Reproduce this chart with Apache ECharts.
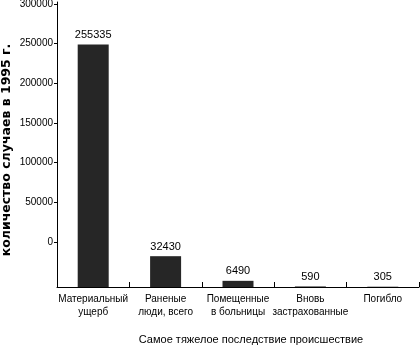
<!DOCTYPE html>
<html><head><meta charset="utf-8">
<script src="https://cdn.jsdelivr.net/npm/echarts@6/dist/echarts.min.js"></script>
<style>html,body{margin:0;padding:0;background:#fff}#c{width:420px;height:350px}</style>
</head><body><div id="c"></div>
<script>
const categories = ['Материальный\nущерб', 'Раненые\nлюди, всего', 'Помещенные\nв больницы', 'Вновь\nзастрахованные', 'Погибло'];
const values = [255335, 32430, 6490, 590, 305];
const yTickLabels = ['0', '50000', '100000', '150000', '200000', '250000', '300000'];
const xTitle = 'Самое тяжелое последствие происшествие';
const yTitle = 'количество случаев в 1995 г.';

const font = 'Liberation Sans, Arial, sans-serif';
const chart = echarts.init(document.getElementById('c'), null, {renderer: 'canvas'});
chart.setOption({
  backgroundColor: '#ffffff',
  animation: false,
  grid: [
    {left: 57, top: 2, width: 362, height: 285, containLabel: false, outerBoundsMode: 'none'},
    {left: 57, top: 4, width: 362, height: 238, containLabel: false, outerBoundsMode: 'none'}
  ],
  xAxis: [
    {
      type: 'category', gridIndex: 0, data: categories,
      axisLine: {show: true, lineStyle: {color: '#000', width: 1}},
      axisTick: {show: true, inside: true, length: 5, lineStyle: {color: '#000'}},
      axisLabel: {color: '#000', fontFamily: font, fontSize: 10, lineHeight: 13, margin: 6, interval: 0},
      name: xTitle, nameLocation: 'middle', nameGap: 47,
      nameTextStyle: {color: '#000', fontFamily: font, fontSize: 11, padding: [0, 0, 0, 26]}
    },
    {type: 'category', gridIndex: 1, data: categories, show: false}
  ],
  yAxis: [
    {
      type: 'value', gridIndex: 0, min: 0, max: 300000, interval: 50000,
      axisLine: {show: true, lineStyle: {color: '#000', width: 1}},
      axisTick: {show: false}, axisLabel: {show: false}, splitLine: {show: false},
      name: yTitle, nameLocation: 'middle', nameGap: 44, nameRotate: 90,
      nameTextStyle: {color: '#000', fontFamily: 'DejaVu Sans, sans-serif', fontSize: 12.5, fontWeight: 'bold', padding: [0, 0, 0, -11]}
    },
    {
      type: 'value', gridIndex: 1, min: 0, max: 300000, interval: 50000,
      axisLine: {show: false},
      axisTick: {show: true, length: 3, lineStyle: {color: '#000'}},
      axisLabel: {color: '#000', fontFamily: font, fontSize: 10, margin: 4,
        formatter: (v) => yTickLabels[Math.round(v / 50000)]},
      splitLine: {show: false}
    }
  ],
  series: [{
    type: 'bar', xAxisIndex: 0, yAxisIndex: 0, data: values, barWidth: 31,
    itemStyle: {color: '#262626'},
    label: {show: true, position: 'top', distance: 4, color: '#000', fontFamily: font, fontSize: 11}
  }]
});
</script></body></html>
